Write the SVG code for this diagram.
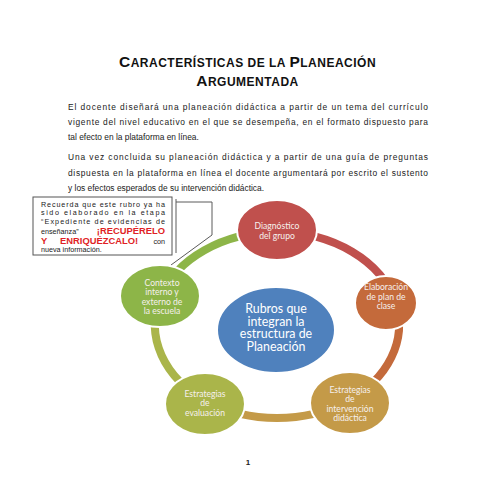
<svg xmlns="http://www.w3.org/2000/svg" width="495" height="495" viewBox="0 0 495 495">
<style>
.title{font-family:"Liberation Sans",Arial,sans-serif;font-weight:bold;fill:#111;letter-spacing:0.5px}
.body{font-family:"Liberation Sans",Arial,sans-serif;font-size:8.4px;fill:#1a1a1a}
.call{font-family:"Liberation Sans",Arial,sans-serif;font-size:7.2px;fill:#1a1a1a}
.red{font-family:"Liberation Sans",Arial,sans-serif;font-size:9.4px;font-weight:bold;fill:#e01f26}
.nt{font-family:Lato,"Open Sans",sans-serif;font-size:8.6px;fill:#f6f0ee;text-anchor:middle}
.ct{font-family:Lato,"Open Sans",sans-serif;font-size:12.4px;fill:#ffffff;text-anchor:middle}
.node{stroke:#ffffff;stroke-width:2}
.arc{fill:none;stroke-width:8}
.cl{fill:none;stroke:#5a5a5a;stroke-width:1}
</style>
<rect width="495" height="495" fill="#ffffff"/>

<g id="title">
<text class="title" x="247.5" y="67" text-anchor="middle"><tspan font-size="15.5">C</tspan><tspan font-size="12">ARACTERÍSTICAS  DE LA </tspan><tspan font-size="15.5">P</tspan><tspan font-size="12">LANEACIÓN</tspan></text>
<text class="title" x="247.5" y="86" text-anchor="middle"><tspan font-size="15.5">A</tspan><tspan font-size="12">RGUMENTADA</tspan></text>
</g>

<g id="paragraphs">
<text class="body" x="68" y="110" textLength="360" lengthAdjust="spacing">El docente diseñará una planeación didáctica a partir de un tema del currículo</text>
<text class="body" x="68" y="125" textLength="360" lengthAdjust="spacing">vigente del nivel educativo en el que se desempeña, en el formato dispuesto para</text>
<text class="body" x="68" y="140">tal efecto en la plataforma en línea.</text>
<text class="body" x="68" y="160" textLength="360" lengthAdjust="spacing">Una vez concluida su planeación didáctica y a partir de una guía de preguntas</text>
<text class="body" x="68" y="175.5" textLength="360" lengthAdjust="spacing">dispuesta en la plataforma en línea el docente argumentará por escrito el sustento</text>
<text class="body" x="68" y="191">y los efectos esperados de su intervención didáctica.</text>
</g>

<g id="callout">
<rect x="33" y="197" width="139" height="58" fill="#ffffff" stroke="#555555" stroke-width="1"/>
<text class="call" x="41" y="206.5" textLength="124" lengthAdjust="spacing">Recuerda que este rubro ya ha</text>
<text class="call" x="41" y="215" textLength="124" lengthAdjust="spacing">sido elaborado en la etapa</text>
<text class="call" x="41" y="223.5" textLength="124" lengthAdjust="spacing">“Expediente de evidencias de</text>
<text class="call" x="41" y="233.5">enseñanza”</text>
<text class="red" x="165" y="233.5" text-anchor="end">¡RECUPÉRELO</text>
<text class="red" x="41" y="243.5">Y</text>
<text class="red" x="60" y="243.5">ENRIQUÉZCALO!</text>
<text class="call" x="165" y="243.5" text-anchor="end">con</text>
<text class="call" x="41" y="252">nueva información.</text>
</g>

<g id="connectors">
<path class="cl" d="M176,199 V253"/>
<path class="cl" d="M176,202 H212 V235 L171,265"/>
<path class="arc" stroke="#c0504d" d="M277,232 A122,93 0 0 1 395.4,302.5"/>
<path class="arc" stroke="#c46a3b" d="M395.4,302.5 A122,93 0 0 1 347,401.2"/>
<path class="arc" stroke="#c49a48" d="M347,401.2 A122,93 0 0 1 207,401.2"/>
<path class="arc" stroke="#aab54a" d="M207,401.2 A122,93 0 0 1 160.3,297.8"/>
<path class="arc" stroke="#8db548" d="M160.3,297.8 A122,93 0 0 1 277,232"/>
</g>

<g id="center">
<ellipse class="node" cx="276" cy="330" rx="59" ry="43" fill="#4f81bd"/>
<text class="ct" x="276" y="312.5">Rubros que</text>
<text class="ct" x="276" y="325.5">integran la</text>
<text class="ct" x="276" y="338">estructura de</text>
<text class="ct" x="276" y="351">Planeación</text>
</g>

<g id="diagnostico">
<ellipse class="node" cx="277" cy="230" rx="40" ry="30" fill="#c0504d"/>
<text class="nt" x="277" y="228.5">Diagnóstico</text>
<text class="nt" x="277" y="238.5">del grupo</text>
</g>

<g id="elaboracion">
<ellipse class="node" cx="386" cy="303" rx="31" ry="27" fill="#c46a3b"/>
<text class="nt" x="386" y="290">Elaboración</text>
<text class="nt" x="386" y="299.5">de plan de</text>
<text class="nt" x="386" y="309">clase</text>
</g>

<g id="intervencion">
<ellipse class="node" cx="350" cy="403" rx="40" ry="31" fill="#c49a48"/>
<text class="nt" x="350" y="392.5">Estrategias</text>
<text class="nt" x="350" y="402">de</text>
<text class="nt" x="350" y="411.5">intervención</text>
<text class="nt" x="350" y="421">didáctica</text>
</g>

<g id="evaluacion">
<ellipse class="node" cx="205" cy="404" rx="40" ry="31" fill="#aab54a"/>
<text class="nt" x="205" y="396.5">Estrategias</text>
<text class="nt" x="205" y="406">de</text>
<text class="nt" x="205" y="415.5">evaluación</text>
</g>

<g id="contexto">
<ellipse class="node" cx="160" cy="296" rx="40" ry="31" fill="#8db548"/>
<text class="nt" x="162" y="285.5">Contexto</text>
<text class="nt" x="162" y="295">interno y</text>
<text class="nt" x="162" y="304.5">externo de</text>
<text class="nt" x="162" y="314">la escuela</text>
</g>

<g id="page">
<text x="248" y="465" font-family="Liberation Sans,Arial,sans-serif" font-size="8" font-weight="bold" text-anchor="middle" fill="#222">1</text>
</g>
</svg>
